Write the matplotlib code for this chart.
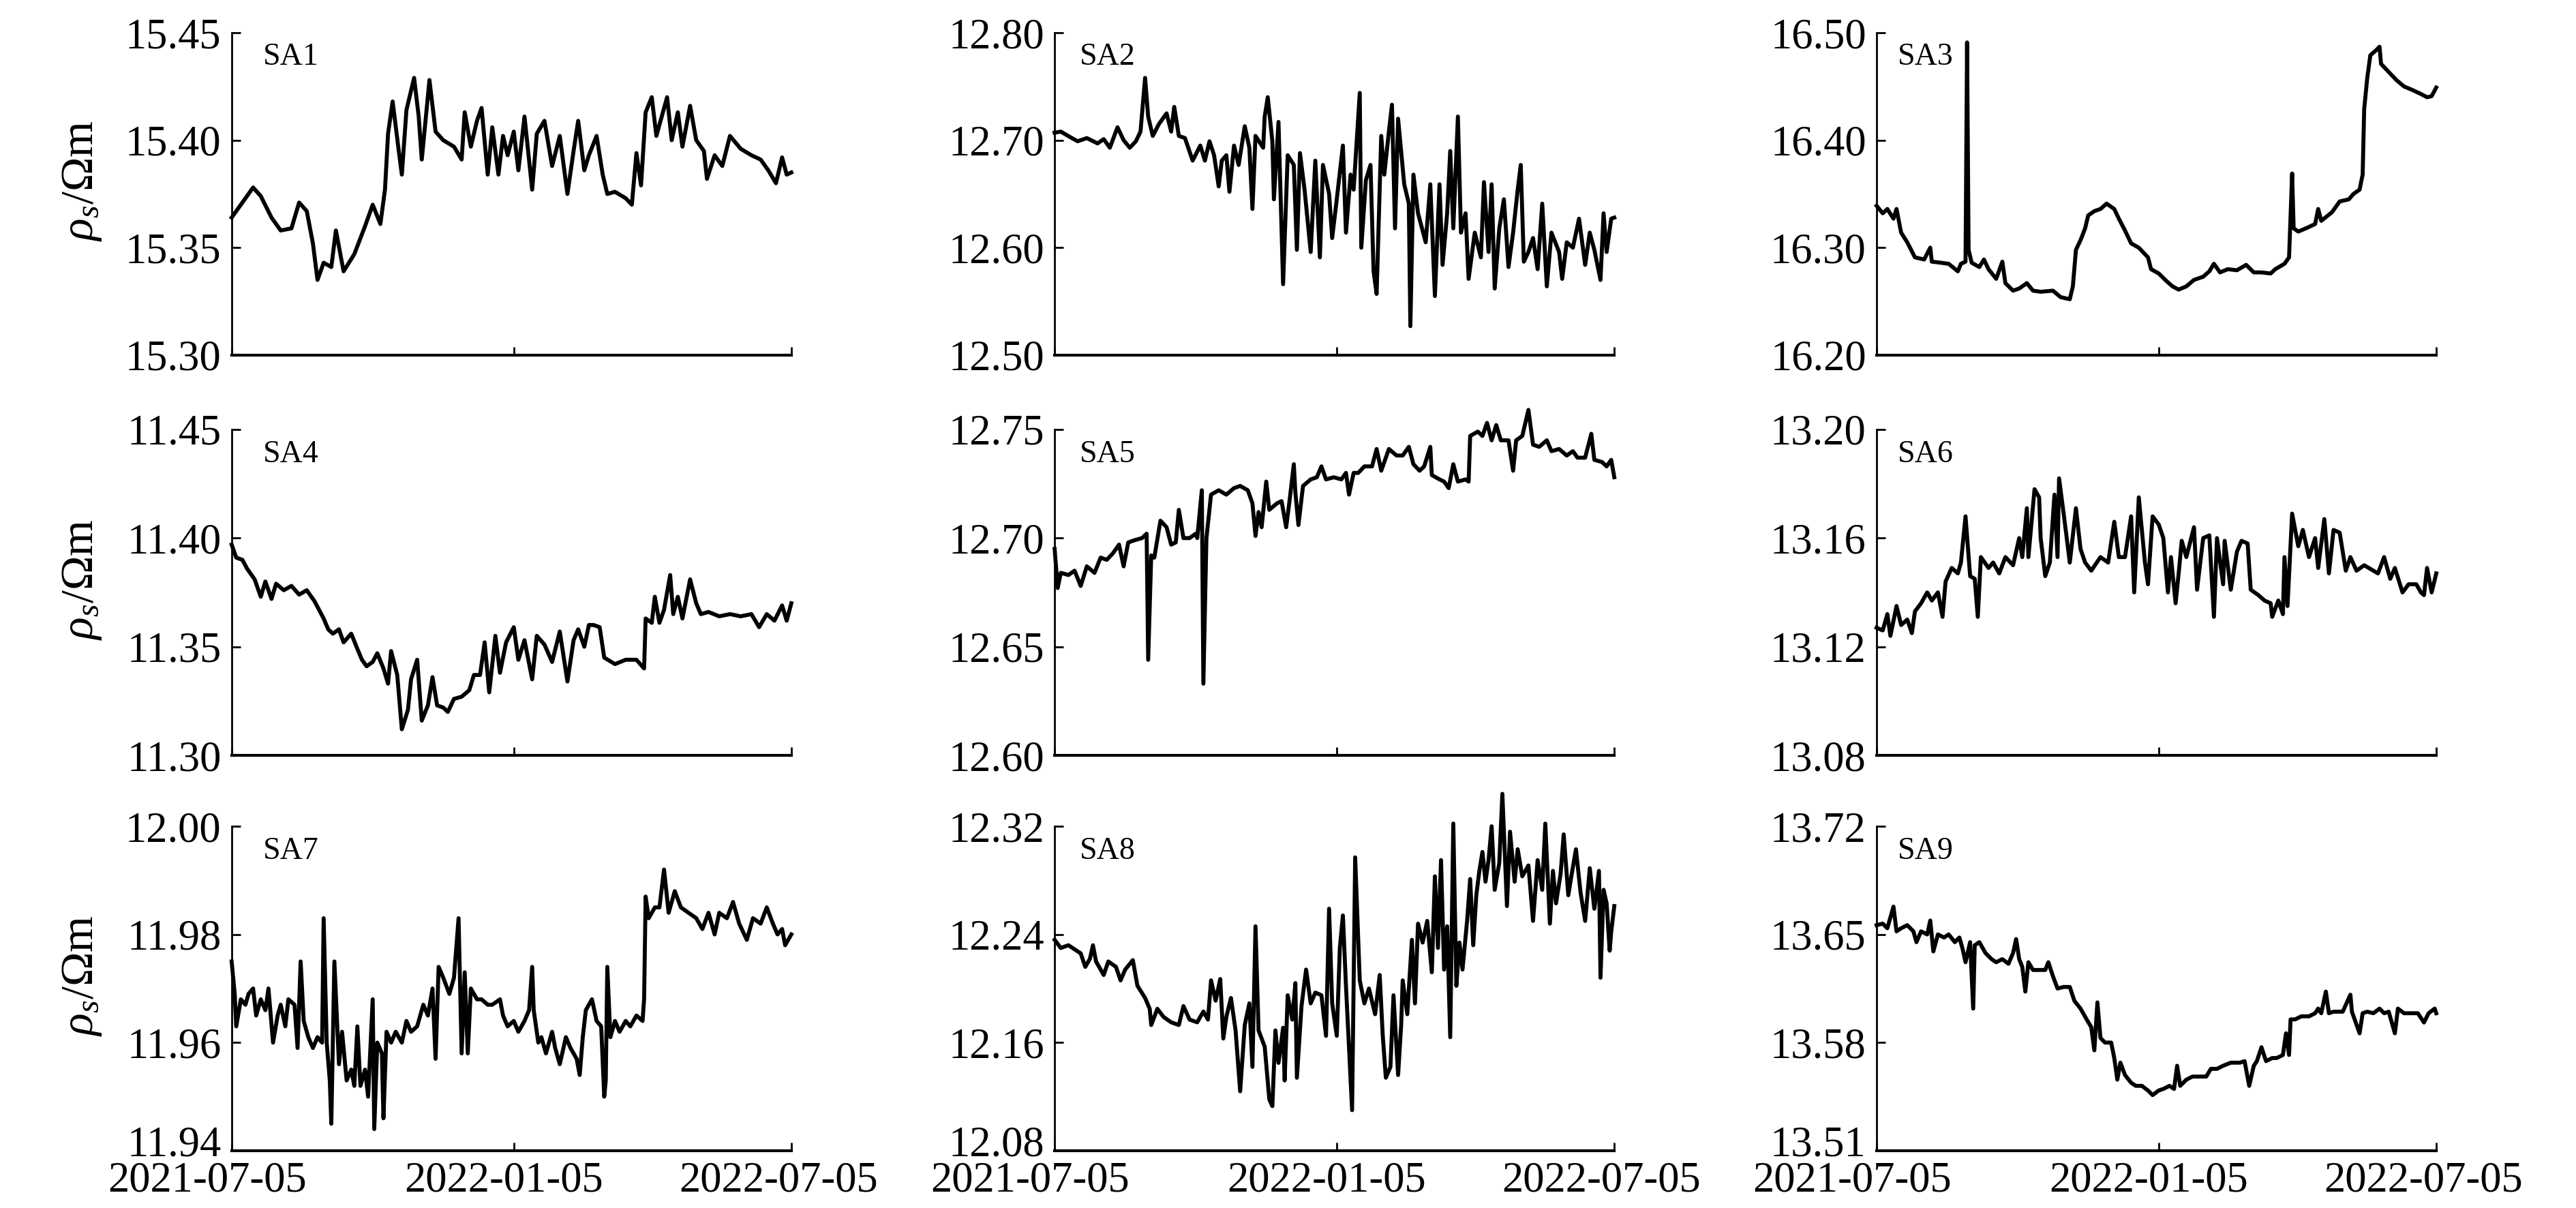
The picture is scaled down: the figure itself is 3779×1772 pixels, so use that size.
import matplotlib
matplotlib.use("Agg")
import matplotlib.pyplot as plt
from matplotlib.transforms import ScaledTranslation
from datetime import datetime, timedelta

# day offsets from 2021-07-05, apparent resistivity in Ohm*m
start = datetime(2021, 7, 5)
date_ticks = ["2021-07-05", "2022-01-05", "2022-07-05"]
names = ["SA1", "SA2", "SA3", "SA4", "SA5", "SA6", "SA7", "SA8", "SA9"]

sa1_days = [0, 5, 14, 19, 26, 32, 39, 44, 49, 53, 56, 60, 65, 68, 73, 80, 87, 92, 97, 100,
            102, 105, 109, 111, 114, 119, 122, 124, 129, 133, 138, 145, 150, 152, 156, 160, 163, 167, 170, 174,
            177, 180, 184, 187, 191, 196, 199, 204, 209, 214, 219, 223, 226, 230, 233, 238, 242, 245, 250, 257,
            261, 264, 267, 270, 274, 277, 284, 287, 291, 294, 299, 303, 308, 310, 315, 320, 325, 332, 339, 345,
            350, 355, 359, 362, 365]
sa1_vals = [15.364, 15.369, 15.378, 15.374, 15.364, 15.358, 15.359, 15.371, 15.367, 15.352,
            15.335, 15.343, 15.341, 15.358, 15.339, 15.347, 15.360, 15.370, 15.361, 15.377,
            15.403, 15.418, 15.395, 15.384, 15.414, 15.429, 15.411, 15.391, 15.428, 15.404,
            15.400, 15.397, 15.391, 15.413, 15.397, 15.409, 15.415, 15.384, 15.406, 15.384,
            15.402, 15.393, 15.404, 15.386, 15.411, 15.377, 15.403, 15.409, 15.388, 15.402,
            15.375, 15.395, 15.409, 15.386, 15.393, 15.402, 15.384, 15.375, 15.376, 15.373,
            15.370, 15.394, 15.379, 15.413, 15.420, 15.402, 15.420, 15.400, 15.413, 15.397,
            15.416, 15.400, 15.395, 15.382, 15.393, 15.388, 15.402, 15.396, 15.393, 15.391,
            15.386, 15.380, 15.392, 15.384, 15.385]

sa2_days = [0, 4, 10, 15, 21, 28, 32, 36, 41, 45, 49, 53, 56, 59, 61, 64, 68, 73, 76, 78,
            81, 85, 90, 95, 98, 101, 104, 107, 109, 112, 114, 117, 120, 124, 127, 129, 131, 136, 137, 139,
            142, 143, 146, 149, 152, 156, 158, 160, 163, 167, 170, 173, 175, 179, 181, 184, 188, 190, 193, 195,
            199, 200, 203, 206, 208, 210, 213, 215, 218, 220, 222, 224, 228, 231, 232, 234, 237, 242, 245, 248,
            251, 253, 256, 258, 260, 263, 265, 268, 270, 274, 278, 280, 283, 285, 287, 290, 293, 296, 299, 302,
            304, 306, 309, 312, 315, 318, 321, 324, 329, 331, 334, 338, 342, 346, 349, 352, 356, 358, 360, 363,
            365]
sa2_vals = [12.707, 12.708, 12.703, 12.699, 12.702, 12.697, 12.701, 12.693, 12.712, 12.700,
            12.693, 12.699, 12.708, 12.758, 12.722, 12.704, 12.715, 12.725, 12.708, 12.731,
            12.704, 12.702, 12.681, 12.695, 12.681, 12.699, 12.686, 12.657, 12.681, 12.686,
            12.652, 12.695, 12.677, 12.713, 12.693, 12.636, 12.704, 12.693, 12.722, 12.740,
            12.699, 12.645, 12.717, 12.566, 12.686, 12.677, 12.598, 12.688, 12.654, 12.596,
            12.681, 12.591, 12.677, 12.650, 12.609, 12.645, 12.695, 12.614, 12.668, 12.654,
            12.744, 12.600, 12.663, 12.677, 12.578, 12.557, 12.704, 12.668, 12.708, 12.733,
            12.618, 12.720, 12.659, 12.641, 12.527, 12.668, 12.632, 12.605, 12.659, 12.555,
            12.659, 12.584, 12.632, 12.690, 12.618, 12.722, 12.614, 12.632, 12.571, 12.614,
            12.591, 12.661, 12.596, 12.659, 12.562, 12.618, 12.645, 12.582, 12.614, 12.654,
            12.677, 12.587, 12.596, 12.609, 12.580, 12.641, 12.564, 12.614, 12.596, 12.571,
            12.605, 12.600, 12.627, 12.584, 12.614, 12.598, 12.570, 12.632, 12.596, 12.627,
            12.628]

sa3_days = [0, 4, 7, 11, 13, 16, 20, 25, 31, 35, 36, 42, 47, 53, 55, 58, 59, 60, 62, 67,
            70, 73, 78, 82, 84, 89, 93, 98, 102, 107, 115, 120, 126, 128, 130, 133, 136, 138, 142, 146,
            150, 155, 158, 162, 166, 171, 177, 179, 184, 189, 193, 197, 202, 207, 213, 217, 220, 224, 229, 235,
            241, 246, 251, 257, 260, 266, 269, 271, 272, 275, 280, 286, 288, 290, 297, 302, 308, 311, 315, 317,
            318, 320, 322, 326, 328, 329, 333, 339, 344, 349, 355, 359, 362, 365]
sa3_vals = [16.339, 16.332, 16.336, 16.327, 16.336, 16.314, 16.305, 16.291, 16.289, 16.300,
            16.287, 16.286, 16.285, 16.278, 16.285, 16.287, 16.491, 16.298, 16.286, 16.282,
            16.289, 16.280, 16.271, 16.287, 16.267, 16.260, 16.262, 16.267, 16.260, 16.259,
            16.260, 16.254, 16.252, 16.264, 16.298, 16.307, 16.318, 16.330, 16.334, 16.336,
            16.341, 16.336, 16.327, 16.316, 16.304, 16.300, 16.291, 16.280, 16.276, 16.269,
            16.264, 16.261, 16.264, 16.270, 16.273, 16.278, 16.285, 16.277, 16.280, 16.279,
            16.284, 16.277, 16.277, 16.276, 16.280, 16.285, 16.291, 16.369, 16.318, 16.315,
            16.318, 16.322, 16.336, 16.325, 16.333, 16.343, 16.345, 16.350, 16.354, 16.368,
            16.429, 16.458, 16.479, 16.484, 16.487, 16.471, 16.465, 16.456, 16.450, 16.447,
            16.443, 16.440, 16.441, 16.449]

sa4_days = [0, 3, 7, 10, 15, 19, 22, 26, 29, 34, 39, 44, 49, 54, 60, 63, 66, 70, 73, 78,
            82, 85, 88, 92, 95, 99, 102, 104, 108, 111, 115, 117, 121, 124, 128, 131, 134, 138, 141, 145,
            150, 155, 158, 162, 165, 168, 172, 175, 179, 184, 187, 191, 196, 199, 204, 209, 214, 219, 223, 226,
            230, 233, 236, 240, 243, 250, 257, 264, 269, 270, 274, 276, 279, 282, 286, 288, 291, 294, 299, 303,
            306, 311, 318, 325, 332, 339, 344, 349, 354, 359, 362, 365]
sa4_vals = [11.397, 11.391, 11.390, 11.386, 11.381, 11.373, 11.380, 11.372, 11.379, 11.376,
            11.378, 11.374, 11.376, 11.371, 11.363, 11.358, 11.356, 11.358, 11.352, 11.356,
            11.349, 11.344, 11.341, 11.343, 11.347, 11.340, 11.333, 11.348, 11.337, 11.312,
            11.321, 11.335, 11.344, 11.316, 11.323, 11.336, 11.323, 11.322, 11.320, 11.326,
            11.327, 11.330, 11.337, 11.337, 11.352, 11.329, 11.355, 11.338, 11.352, 11.359,
            11.344, 11.353, 11.335, 11.355, 11.351, 11.343, 11.357, 11.334, 11.353, 11.358,
            11.350, 11.360, 11.360, 11.359, 11.345, 11.342, 11.344, 11.344, 11.340, 11.363,
            11.361, 11.373, 11.361, 11.367, 11.383, 11.365, 11.373, 11.363, 11.381, 11.370,
            11.365, 11.366, 11.364, 11.365, 11.364, 11.365, 11.359, 11.365, 11.362, 11.369,
            11.362, 11.370]

sa5_days = [0, 2, 4, 9, 13, 17, 21, 26, 30, 34, 38, 42, 45, 48, 52, 57, 60, 61, 63, 65,
            69, 73, 76, 79, 81, 84, 88, 92, 93, 96, 97, 99, 102, 107, 112, 117, 121, 126, 129, 131,
            133, 135, 138, 140, 145, 148, 151, 153, 156, 157, 159, 162, 167, 171, 174, 177, 182, 187, 190, 192,
            195, 198, 202, 207, 210, 213, 218, 223, 227, 231, 234, 238, 241, 245, 246, 251, 254, 257, 260, 263,
            268, 270, 271, 276, 279, 282, 285, 288, 291, 296, 299, 301, 305, 309, 312, 316, 321, 324, 329, 334,
            338, 341, 346, 350, 352, 357, 360, 363, 365]
sa5_vals = [12.695, 12.677, 12.684, 12.683, 12.685, 12.678, 12.687, 12.684, 12.691, 12.690,
            12.693, 12.697, 12.687, 12.698, 12.699, 12.700, 12.702, 12.644, 12.692, 12.691,
            12.708, 12.705, 12.697, 12.698, 12.713, 12.700, 12.700, 12.702, 12.700, 12.722,
            12.633, 12.700, 12.720, 12.722, 12.720, 12.723, 12.724, 12.722, 12.716, 12.701,
            12.712, 12.705, 12.726, 12.713, 12.716, 12.717, 12.705, 12.716, 12.734, 12.721,
            12.706, 12.724, 12.727, 12.728, 12.733, 12.727, 12.728, 12.727, 12.730, 12.720,
            12.730, 12.730, 12.733, 12.733, 12.741, 12.731, 12.741, 12.738, 12.738, 12.742,
            12.734, 12.731, 12.733, 12.742, 12.729, 12.727, 12.726, 12.723, 12.734, 12.726,
            12.727, 12.726, 12.747, 12.749, 12.747, 12.753, 12.745, 12.752, 12.745, 12.745,
            12.731, 12.745, 12.747, 12.759, 12.743, 12.742, 12.745, 12.740, 12.741, 12.738,
            12.740, 12.737, 12.737, 12.748, 12.736, 12.735, 12.733, 12.736, 12.728]

sa6_days = [0, 4, 7, 9, 13, 16, 20, 23, 25, 29, 33, 36, 40, 43, 45, 49, 53, 55, 58, 61,
            64, 66, 68, 73, 76, 80, 84, 89, 93, 95, 98, 99, 103, 106, 107, 110, 113, 116, 118, 119,
            122, 126, 130, 133, 136, 140, 146, 151, 155, 158, 162, 166, 168, 171, 175, 177, 180, 184, 187, 190,
            192, 195, 197, 199, 202, 207, 209, 213, 217, 220, 222, 226, 227, 231, 235, 238, 242, 244, 249, 253,
            257, 258, 262, 265, 266, 268, 271, 275, 278, 282, 286, 288, 292, 295, 298, 302, 306, 309, 313, 318,
            324, 327, 331, 335, 338, 343, 347, 352, 355, 357, 359, 362, 365]
sa6_vals = [13.127, 13.126, 13.132, 13.124, 13.135, 13.128, 13.130, 13.125, 13.133, 13.136,
            13.140, 13.137, 13.140, 13.131, 13.144, 13.149, 13.147, 13.151, 13.168, 13.146,
            13.145, 13.131, 13.153, 13.149, 13.151, 13.147, 13.153, 13.150, 13.160, 13.153,
            13.171, 13.153, 13.178, 13.175, 13.160, 13.146, 13.151, 13.176, 13.153, 13.182,
            13.169, 13.151, 13.171, 13.156, 13.151, 13.148, 13.153, 13.151, 13.166, 13.153,
            13.153, 13.168, 13.140, 13.175, 13.151, 13.143, 13.168, 13.165, 13.160, 13.140,
            13.153, 13.136, 13.147, 13.159, 13.153, 13.164, 13.141, 13.160, 13.161, 13.131,
            13.160, 13.143, 13.159, 13.141, 13.155, 13.159, 13.158, 13.141, 13.139, 13.137,
            13.136, 13.131, 13.137, 13.132, 13.153, 13.135, 13.169, 13.157, 13.163, 13.153,
            13.160, 13.149, 13.167, 13.147, 13.163, 13.162, 13.148, 13.153, 13.148, 13.150,
            13.148, 13.147, 13.153, 13.145, 13.149, 13.140, 13.143, 13.143, 13.140, 13.139,
            13.149, 13.140, 13.147]

sa7_days = [0, 2, 3, 6, 9, 11, 14, 16, 19, 22, 24, 27, 30, 32, 35, 37, 41, 43, 45, 47,
            50, 53, 56, 59, 60, 62, 64, 65, 67, 70, 72, 75, 78, 80, 82, 84, 87, 89, 92, 93,
            95, 98, 99, 101, 104, 107, 111, 114, 117, 121, 125, 128, 131, 133, 135, 138, 142, 145, 148, 150,
            152, 154, 156, 160, 163, 167, 170, 175, 177, 180, 184, 187, 191, 194, 196, 197, 200, 202, 205, 209,
            211, 214, 218, 221, 225, 227, 229, 231, 235, 238, 241, 243, 244, 245, 247, 250, 253, 257, 260, 264,
            268, 269, 270, 272, 276, 279, 282, 285, 289, 293, 298, 303, 307, 311, 315, 318, 323, 327, 331, 336,
            340, 345, 349, 353, 356, 359, 361, 365]
sa7_vals = [11.975, 11.969, 11.963, 11.968, 11.967, 11.969, 11.970, 11.965, 11.968, 11.966,
            11.970, 11.960, 11.965, 11.967, 11.963, 11.968, 11.967, 11.959, 11.975, 11.964,
            11.961, 11.959, 11.961, 11.960, 11.983, 11.960, 11.953, 11.945, 11.975, 11.956,
            11.962, 11.953, 11.955, 11.952, 11.963, 11.952, 11.955, 11.950, 11.968, 11.944,
            11.960, 11.958, 11.946, 11.962, 11.960, 11.962, 11.960, 11.964, 11.962, 11.963,
            11.967, 11.965, 11.970, 11.957, 11.974, 11.972, 11.969, 11.972, 11.983, 11.958,
            11.973, 11.958, 11.970, 11.968, 11.968, 11.967, 11.967, 11.968, 11.965, 11.963,
            11.964, 11.962, 11.964, 11.966, 11.974, 11.966, 11.960, 11.961, 11.958, 11.962,
            11.959, 11.956, 11.961, 11.959, 11.957, 11.954, 11.961, 11.966, 11.968, 11.964,
            11.963, 11.950, 11.953, 11.974, 11.961, 11.964, 11.962, 11.964, 11.963, 11.965,
            11.964, 11.968, 11.987, 11.983, 11.985, 11.985, 11.992, 11.984, 11.988, 11.985,
            11.984, 11.983, 11.981, 11.984, 11.980, 11.984, 11.983, 11.986, 11.982, 11.979,
            11.983, 11.982, 11.985, 11.982, 11.980, 11.981, 11.978, 11.980]

sa8_days = [0, 4, 9, 13, 17, 20, 23, 25, 27, 32, 35, 40, 43, 46, 51, 54, 59, 62, 63, 67,
            71, 76, 81, 84, 88, 93, 97, 100, 102, 105, 108, 110, 112, 115, 118, 121, 124, 127, 129, 131,
            133, 137, 140, 142, 144, 146, 149, 150, 152, 155, 157, 158, 161, 164, 167, 170, 174, 177, 179, 181,
            184, 186, 188, 190, 194, 196, 199, 202, 205, 209, 212, 214, 216, 219, 221, 224, 226, 227, 230, 233,
            235, 237, 240, 243, 246, 248, 250, 252, 254, 256, 258, 260, 262, 264, 266, 269, 271, 273, 275, 277,
            279, 281, 283, 285, 287, 290, 292, 295, 297, 300, 302, 305, 309, 312, 315, 318, 320, 323, 325, 327,
            330, 332, 335, 337, 340, 343, 346, 349, 352, 355, 356, 358, 360, 362, 363, 365]
sa8_vals = [12.236, 12.230, 12.232, 12.229, 12.226, 12.216, 12.222, 12.232, 12.220, 12.210,
            12.220, 12.216, 12.206, 12.214, 12.221, 12.202, 12.193, 12.185, 12.173, 12.185,
            12.179, 12.175, 12.173, 12.187, 12.177, 12.175, 12.183, 12.177, 12.206, 12.191,
            12.207, 12.163, 12.179, 12.193, 12.169, 12.124, 12.173, 12.189, 12.142, 12.246,
            12.169, 12.157, 12.118, 12.113, 12.169, 12.145, 12.171, 12.132, 12.195, 12.177,
            12.204, 12.134, 12.187, 12.214, 12.189, 12.197, 12.195, 12.165, 12.259, 12.189,
            12.165, 12.230, 12.254, 12.202, 12.110, 12.297, 12.206, 12.189, 12.200, 12.181,
            12.210, 12.165, 12.134, 12.142, 12.195, 12.136, 12.173, 12.206, 12.181, 12.236,
            12.189, 12.248, 12.234, 12.250, 12.212, 12.283, 12.230, 12.295, 12.214, 12.246,
            12.164, 12.322, 12.202, 12.234, 12.214, 12.250, 12.281, 12.232, 12.269, 12.287,
            12.301, 12.279, 12.295, 12.320, 12.273, 12.293, 12.344, 12.261, 12.316, 12.279,
            12.303, 12.283, 12.291, 12.250, 12.295, 12.273, 12.322, 12.248, 12.287, 12.263,
            12.285, 12.314, 12.269, 12.283, 12.303, 12.271, 12.250, 12.289, 12.259, 12.287,
            12.208, 12.273, 12.263, 12.228, 12.242, 12.261]

sa9_days = [0, 4, 7, 11, 13, 16, 20, 24, 26, 29, 33, 35, 37, 40, 44, 47, 51, 54, 56, 58,
            61, 63, 64, 67, 71, 75, 78, 82, 86, 89, 91, 93, 95, 97, 99, 102, 106, 110, 112, 115,
            118, 122, 126, 129, 133, 137, 140, 142, 144, 146, 149, 153, 155, 157, 159, 162, 166, 169, 173, 177,
            180, 184, 187, 191, 194, 196, 198, 202, 206, 211, 215, 218, 222, 226, 231, 237, 240, 243, 246, 248,
            251, 254, 258, 261, 265, 267, 269, 270, 273, 277, 282, 286, 288, 290, 293, 295, 298, 304, 309, 310,
            315, 317, 320, 324, 328, 331, 334, 338, 340, 344, 348, 353, 357, 360, 364, 365]
sa9_vals = [13.656, 13.657, 13.654, 13.668, 13.652, 13.654, 13.656, 13.652, 13.645, 13.652,
            13.650, 13.659, 13.639, 13.650, 13.648, 13.650, 13.645, 13.648, 13.641, 13.632,
            13.645, 13.602, 13.643, 13.645, 13.638, 13.634, 13.632, 13.634, 13.631, 13.638,
            13.647, 13.634, 13.629, 13.613, 13.632, 13.627, 13.627, 13.627, 13.632, 13.623,
            13.615, 13.616, 13.616, 13.607, 13.602, 13.595, 13.590, 13.575, 13.606, 13.583,
            13.580, 13.580, 13.570, 13.556, 13.567, 13.559, 13.554, 13.552, 13.552, 13.549,
            13.546, 13.549, 13.550, 13.552, 13.550, 13.565, 13.552, 13.556, 13.558, 13.558,
            13.558, 13.563, 13.563, 13.565, 13.567, 13.567, 13.568, 13.552, 13.565, 13.568,
            13.577, 13.568, 13.570, 13.570, 13.572, 13.586, 13.572, 13.595, 13.595, 13.597,
            13.597, 13.599, 13.602, 13.599, 13.613, 13.599, 13.600, 13.600, 13.611, 13.600,
            13.586, 13.599, 13.600, 13.599, 13.602, 13.599, 13.600, 13.586, 13.602, 13.599,
            13.599, 13.599, 13.593, 13.599, 13.602, 13.599]

# y ticks per panel (first and last are the axis limits)
sa1_yticks = [15.30, 15.35, 15.40, 15.45]
sa2_yticks = [12.50, 12.60, 12.70, 12.80]
sa3_yticks = [16.20, 16.30, 16.40, 16.50]
sa4_yticks = [11.30, 11.35, 11.40, 11.45]
sa5_yticks = [12.60, 12.65, 12.70, 12.75]
sa6_yticks = [13.08, 13.12, 13.16, 13.20]
sa7_yticks = [11.94, 11.96, 11.98, 12.00]
sa8_yticks = [12.08, 12.16, 12.24, 12.32]
sa9_yticks = [13.51, 13.58, 13.65, 13.72]


def shift(fig, label, dx_px, dy_px):
  # nudge a tick label by some pixels (dpi 100 -> 0.01 inch per px)
  label.set_transform(label.get_transform() + ScaledTranslation(dx_px / 100.0, dy_px / 100.0, fig.dpi_scale_trans))


def main():
  plt.rcParams['font.family'] = ['Liberation Serif', 'DejaVu Serif']
  plt.rcParams['mathtext.fontset'] = 'custom'
  plt.rcParams['mathtext.rm'] = 'Liberation Serif'
  plt.rcParams['mathtext.it'] = 'Liberation Serif:italic'

  panels = [(sa1_days, sa1_vals, sa1_yticks), (sa2_days, sa2_vals, sa2_yticks), (sa3_days, sa3_vals, sa3_yticks),
            (sa4_days, sa4_vals, sa4_yticks), (sa5_days, sa5_vals, sa5_yticks), (sa6_days, sa6_vals, sa6_yticks),
            (sa7_days, sa7_vals, sa7_yticks), (sa8_days, sa8_vals, sa8_yticks), (sa9_days, sa9_vals, sa9_yticks)]

  fig = plt.figure(figsize=(37.8, 17.72), dpi=100)

  lefts = [0.0899, 0.4093, 0.7283]
  bottoms = [0.7060, 0.3747, 0.0474]
  heights = [0.2669, 0.2698, 0.2686]
  width = 0.2172
  label_x = [0.056, 0.045, 0.038]

  tick_dates = [datetime.strptime(s, "%Y-%m-%d") for s in date_ticks]

  for i in range(9):
    row = i // 3
    col = i % 3
    days, vals, yt = panels[i]
    ax = fig.add_axes([lefts[col], bottoms[row], width, heights[row]])
    x = [start + timedelta(days=d) for d in days]
    ax.plot(x, vals, color='black', lw=4.2, clip_on=False)

    ax.set_xlim(tick_dates[0], tick_dates[-1])
    ax.set_ylim(yt[0], yt[-1])
    ax.set_yticks(yt)
    ax.set_yticklabels(["%.2f" % v for v in yt])
    ax.set_xticks(tick_dates)
    if row == 2:
      ax.set_xticklabels(date_ticks)
    else:
      ax.set_xticklabels([])

    ax.spines['top'].set_visible(False)
    ax.spines['right'].set_visible(False)
    ax.spines['left'].set_linewidth(2.0)
    ax.spines['bottom'].set_linewidth(3.0)
    ax.tick_params(axis='both', direction='in', length=9, width=2.0, labelsize=45)
    ax.tick_params(axis='y', pad=11)
    ax.tick_params(axis='x', pad=11)

    if row == 2:
      # the reference sets the date labels a little left of their ticks,
      # and lifts the lowest value label clear of them
      xl = ax.get_xticklabels()
      shift(fig, xl[0], -36, 0)
      shift(fig, xl[1], -15, 0)
      shift(fig, xl[2], -19, 0)
      shift(fig, ax.get_yticklabels()[0], 0, 15)

    ax.text(label_x[col], 0.90, names[i], transform=ax.transAxes, fontsize=33, va='baseline', ha='left')

    if col == 0:
      ax.set_ylabel(r'$\rho_s$/Ωm', fontsize=49)
      ax.yaxis.set_label_coords(-0.229, 0.54)

  plt.savefig("out.png", dpi=100)


if __name__ == "__main__":
  main()
